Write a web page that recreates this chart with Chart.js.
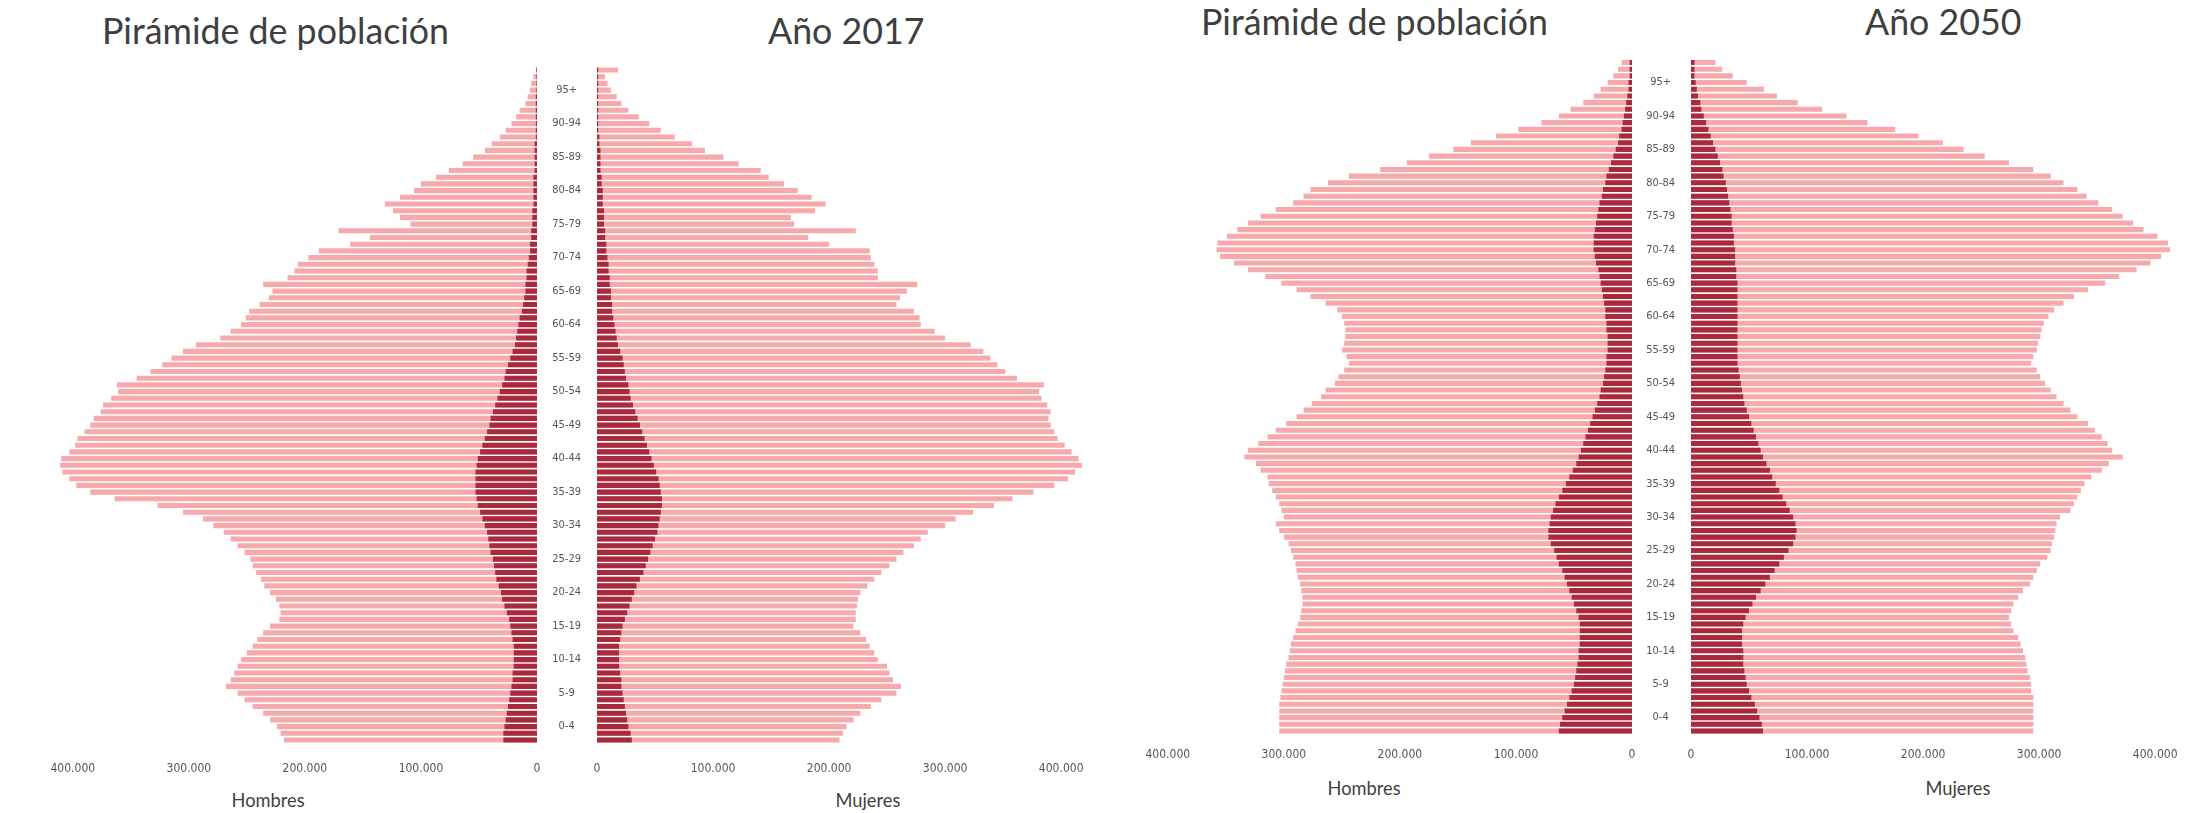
<!DOCTYPE html>
<html><head><meta charset="utf-8">
<script src="https://cdn.jsdelivr.net/npm/chart.js@4.4.0/dist/chart.umd.min.js"></script>
<style>
html,body{margin:0;padding:0;background:#fff;width:2197px;height:813px;overflow:hidden;}
canvas{position:absolute;}
.txt{position:absolute;white-space:nowrap;color:#3f3f3f;font-family:Lato,'Open Sans',sans-serif;line-height:1;}
</style></head><body>
<div class="txt" id="t17a">Pirámide de población</div>
<div class="txt" id="t17b">Año 2017</div>
<div class="txt" id="t50a">Pirámide de población</div>
<div class="txt" id="t50b">Año 2050</div>
<div class="txt lab" id="h17">Hombres</div>
<div class="txt lab" id="m17">Mujeres</div>
<div class="txt lab" id="h50">Hombres</div>
<div class="txt lab" id="m50">Mujeres</div>
<canvas id="cH17" width="560" height="813"></canvas>
<canvas id="cM17" width="573" height="813"></canvas>
<canvas id="cH50" width="555" height="813"></canvas>
<canvas id="cM50" width="565" height="813"></canvas>
<script>
// Ages 0..100 (single years) and the age-group tick labels
const ages = Array.from({length:101},(_,i)=>String(i));
const ageGroups = ['0-4','5-9','10-14','15-19','20-24','25-29','30-34','35-39','40-44','45-49',
  '50-54','55-59','60-64','65-69','70-74','75-79','80-84','85-89','90-94','95+'];
const xTicks = [0,100,200,300,400]; // thousands

// Values in thousands, age 0 .. 100
const hombres2017 = [218,221,224,230,236, 245,252,258,268,264, 261,258,255,250,245, 241,236,230,222,221,
  222,225,230,235,238, 242,245,247,252,258, 264,270,279,288,305, 327,364,385,397,403,
  409,411,410,403,398, 396,390,385,382,376, 374,367,361,362,345, 333,323,315,305,294,
  273,264,255,251,248, 239,231,228,236,215, 209,206,197,188,161, 144,171,109,118,124,
  131,118,106,100,87, 76,64,55,45,39, 32,27,22,18,15, 10,8,6,5,3, 1];
const hombres2017Ext = [29,29,28,27,26, 25,24,23,22,21, 21,20,20,20,20, 21,22,23,24,26,
  28,30,31,33,35, 36,37,38,40,41, 42,43,45,47,49, 51,52,53,53,53,
  53,52,51,49,47, 45,43,41,40,38, 36,34,32,30,28, 27,25,23,21,19,
  18,17,16,15,13, 12,11,10,10,9, 9,8,7,6,6, 5,5,4,4,4,
  3,3,3,3,3, 2,2,2,2,2, 1,1,1,1,1, 1,1,0.5,0.5,0.5, 0.5];
const mujeres2017 = [209,212,215,221,227, 236,245,258,262,255, 252,250,242,239,235, 232,227,221,223,223,
  224,225,227,233,239, 245,252,258,264,273, 279,285,300,309,324, 342,358,376,394,406,
  412,418,415,409,403, 397,394,391,389,391, 388,383,381,385,362, 352,345,339,333,322,
  300,291,279,278,273, 258,261,267,276,242, 242,239,236,235,200, 182,223,170,167,188,
  197,185,173,161,148, 141,122,109,93,82, 67,55,45,36,27, 21,17,12,9,7, 18];
const mujeres2017Ext = [30,29,27,26,25, 24,23,22,21,21, 20,19,19,19,19, 20,21,22,24,26,
  28,30,32,34,37, 40,42,44,46,48, 50,52,53,54,55, 56,56,55,54,53,
  51,49,47,45,43, 41,39,37,35,33, 31,29,28,27,25, 24,23,22,20,18,
  17,16,15,14,13, 13,12,12,11,11, 10,10,9,8,8, 7,7,6,6,6,
  5,5,5,4,4, 3,3,3,3,2, 2,1,1,1,1, 1,1,1,1,1, 1];
const hombres2050 = [304,304,304,304,304, 303,302,301,300,299, 298,296,295,294,292, 290,288,286,285,284,
  284,285,286,288,289, 290,292,294,296,300, 304,307,300,302,304, 307,310,313,314,320,
  324,334,331,322,314, 307,298,289,283,276, 268,264,256,253,248, 244,246,250,248,247,
  247,248,250,254,264, 277,289,302,316,331, 343,355,358,357,349, 340,331,320,307,292,
  283,277,262,244,217, 194,175,154,139,117, 98,78,63,53,42, 33,27,21,16,12, 9];
const hombres2050Ext = [63,62,60,58,56, 54,52,50,49,48, 47,46,46,45,45, 45,45,46,48,50,
  52,54,56,58,60, 63,65,67,70,72, 72,71,70,68,66, 63,60,57,54,51,
  48,46,44,42,40, 38,36,34,32,30, 28,27,25,24,23, 22,22,21,21,21,
  22,22,23,23,24, 25,26,27,28,29, 31,32,33,33,33, 32,31,30,29,28,
  26,25,23,22,20, 18,16,14,12,11, 9,8,7,6,5, 4,3,3,2,2, 2];
const mujeres2050 = [295,295,295,295,295, 295,293,293,292,290, 289,288,286,284,282, 278,276,274,276,278,
  282,286,292,295,298, 301,307,310,311,313, 314,315,318,327,330, 333,336,339,345,354,
  360,372,363,359,354, 348,342,333,327,321, 315,310,305,301,298, 293,295,298,299,301,
  302,304,308,313,321, 330,342,357,369,384, 396,405,413,411,402, 390,381,372,363,351,
  341,333,321,310,295, 274,253,235,217,196, 176,152,134,113,92, 74,63,48,36,27, 21];
const mujeres2050Ext = [62,61,59,57,55, 52,50,48,47,46, 45,45,45,44,44, 44,45,47,50,53,
  56,60,64,68,72, 76,80,84,88,90, 91,90,88,85,82, 79,76,73,70,68,
  65,62,60,58,56, 54,52,50,48,46, 45,44,43,42,41, 40,40,40,40,40,
  40,40,40,40,40, 40,40,40,39,39, 38,38,38,37,37, 36,35,35,34,33,
  32,31,30,28,27, 25,23,21,19,17, 15,13,11,9,8, 6,5,4,3,3, 3];

const PINK = '#F7A9AC';
const DARK = '#A82A3F';
const XMAX = 430;
const TICK_FONT = "'DejaVu Sans Condensed','Liberation Sans Narrow',sans-serif";

function fmt(v){ return String(Math.round(v*1000)).replace(/\B(?=(\d{3})+(?!\d))/g,'.'); }

function half(id, g, totals, ext, isMen){
  const cv = document.getElementById(id);
  cv.style.left = g.left+'px'; cv.style.top = '0px';
  return new Chart(cv, {
    type:'bar',
    data:{ labels: ages, datasets:[
      {data: totals, backgroundColor: PINK, grouped:false, barPercentage:0.76, categoryPercentage:1, order:2, borderWidth:0},
      {data: ext, backgroundColor: DARK, grouped:false, barPercentage:0.76, categoryPercentage:1, order:1, borderWidth:0}
    ]},
    options:{
      indexAxis:'y', responsive:false, animation:false,
      layout:{padding:{left:g.padL, right:g.padR, top:g.padT, bottom:g.padB}},
      plugins:{legend:{display:false}, tooltip:{enabled:false}},
      scales:{
        x:{ type:'linear', min:0, max:XMAX, reverse:isMen, position:'bottom',
            afterBuildTicks: s => { s.ticks = xTicks.map(v=>({value:v})); },
            grid:{display:false, drawTicks:false}, border:{display:false},
            ticks:{padding:g.tickPad, color:'#555', maxRotation:0, autoSkip:false,
                   font:{family:TICK_FONT, size:12}, callback: v => v===0 ? '0' : fmt(v)},
            afterFit: s => { s.height = 40; } },
        y:{ type:'category', reverse:true, offset:true, display:!isMen, position:'left',
            grid:{display:false, drawTicks:false}, border:{display:false},
            ticks:{autoSkip:false, crossAlign:'center', padding:16, color:'#555',
                   font:{family:TICK_FONT, size:11},
                   callback:(v,i)=> (i%5===2) ? ageGroups[(i-2)/5] : ''},
            afterFit: s => { s.width = g.yW; } }
      }
    }
  });
}

// 2017 panel: plot rows from y=66.65 to 743.35
half('cH17', {left:0,   padL:38, padR:23, padT:66.65, padB:813-743.35-40, tickPad:18, yW:0}, hombres2017, hombres2017Ext, true);
half('cM17', {left:537, padL:0,  padR:14, padT:66.65, padB:813-743.35-40, tickPad:18, yW:60}, mujeres2017, mujeres2017Ext, false);
// 2050 panel: plot rows from y=59.15 to 734.35
half('cH50', {left:1100, padL:33, padR:23, padT:59.15, padB:813-734.35-40, tickPad:13, yW:0}, hombres2050, hombres2050Ext, true);
half('cM50', {left:1632, padL:0,  padR:7,  padT:59.15, padB:813-734.35-40, tickPad:13, yW:59}, mujeres2050, mujeres2050Ext, false);

function place(id, left, cy, width, size){
  const el = document.getElementById(id);
  let fs = size;
  if (width){ el.style.fontSize='100px'; fs = 100*width/el.offsetWidth; }
  el.style.fontSize = fs+'px';
  el.style.left = left+'px';
  el.style.top = (cy - fs*0.55)+'px';
  return fs;
}
function placeC(id, cx, cy, size){
  const el = document.getElementById(id);
  el.style.fontSize = size+'px';
  el.style.left = (cx - el.offsetWidth/2)+'px';
  el.style.top = (cy - size*0.55)+'px';
}
const tfs = place('t17a', 102, 33, 347);
place('t17b', 768, 33, 0, tfs);
place('t50a', 1201, 24, 0, tfs);
place('t50b', 1865, 24, 0, tfs);
const lab = document.getElementById('h17'); lab.style.fontSize='100px';
const lfs = 100*73/lab.offsetWidth;
placeC('h17', 268, 801, lfs);
placeC('m17', 868, 801, lfs);
placeC('h50', 1364, 789, lfs);
placeC('m50', 1958, 789, lfs);
</script>
</body></html>
